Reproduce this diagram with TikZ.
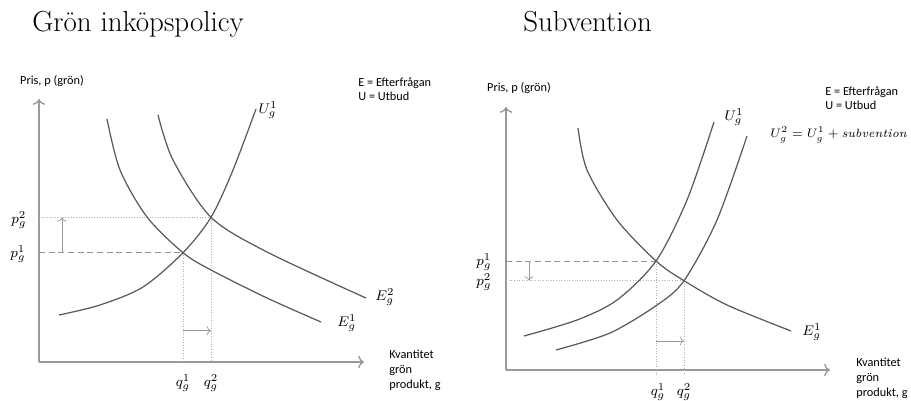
\documentclass[tikz,border=0pt]{standalone}
\usepackage{fontspec}
\newfontfamily\calibri{Carlito}
\usetikzlibrary{positioning, arrows.meta}

\begin{document}
\begin{tikzpicture}[x=0.02cm, y=-0.02cm,
  axis/.style={->, draw=gray!80, line width=0.8pt},
  curve/.style={draw=black!65, line width=0.7pt},
  dashline/.style={draw=gray!85, dash pattern=on 3.5pt off 2pt, line width=0.5pt},
  dotline/.style={draw=gray!60, densely dotted, line width=0.5pt},
  shiftarrow/.style={->, draw=gray!80, line width=0.4pt},
  sanslabel/.style={font=\calibri\fontsize{7}{8.5}\selectfont, align=left, inner sep=0pt},
  mathlabel/.style={font=\fontsize{8.5}{10}\selectfont, inner sep=0pt},
  title/.style={font=\fontsize{16.5}{20}\selectfont, inner sep=0pt, anchor=base west}]

\useasboundingbox (0,0) rectangle (911,401);

% Titles
\node[title] (ltitle) at (32,32) {Grön inköpspolicy};
\node[title] (rtitle) at (523,32) {Subvention};

% ---------- Left panel: green purchasing policy ----------
\coordinate (lO) at (39,362);
\coordinate (lYtop) at (39,99);
\coordinate (lXend) at (364,362);
\draw[axis] (lO) -- (lYtop);
\draw[axis] (lO) -- (lXend);

\node[sanslabel] (lylab) at (52,81) {Pris, p (grön)};
\node[sanslabel, anchor=north west] (llegend) at (358,77) {E = Efterfrågan\\U = Utbud};
\node[sanslabel, anchor=north west] (lxlab) at (389,350) {Kvantitet\\grön\\produkt, g};

% Equilibria
\coordinate (le1) at (183,252.7);
\coordinate (le2) at (211,217.3);
\coordinate (lp1) at (39,252.7);
\coordinate (lp2) at (39,217.3);
\coordinate (lq1) at (183,362);
\coordinate (lq2) at (211,362);

\draw[dotline] (lp2) -- (le2);
\draw[dashline] (lp1) -- (le1);
\draw[dotline] (le1) -- (lq1);
\draw[dotline] (le2) -- (lq2);

% Curves
\draw[curve] plot[smooth] coordinates {(59,315) (100,305) (143,287) (183,252.7) (211,217.3) (233,170) (256,109)};
\draw[curve] plot[smooth] coordinates {(107,119) (120,170) (147,217) (183,252.7) (211,270) (267,298) (321,322)};
\draw[curve] plot[smooth] coordinates {(158,115) (173,160) (211,217.3) (267,252) (366,298)};

% Shift arrows
\coordinate (lup0) at (62,252.7);
\coordinate (lup1) at (62,217.3);
\draw[shiftarrow] (lup0) -- (lup1);
\coordinate (lrt0) at (183,330.7);
\coordinate (lrt1) at (211,330.7);
\draw[shiftarrow] (lrt0) -- (lrt1);

% Labels
\node[mathlabel] (lp2lab) at (19,220) {$p_g^2$};
\node[mathlabel] (lp1lab) at (18,254) {$p_g^1$};
\node[mathlabel] (lq1lab) at (183,383) {$q_g^1$};
\node[mathlabel] (lq2lab) at (211,383) {$q_g^2$};
\node[mathlabel] (lUlab) at (268,110) {$U_g^1$};
\node[mathlabel] (lE1lab) at (347,323) {$E_g^1$};
\node[mathlabel] (lE2lab) at (385,297) {$E_g^2$};

% ---------- Right panel: subsidy ----------
\coordinate (rO) at (506,370);
\coordinate (rYtop) at (506,107);
\coordinate (rXend) at (830,370);
\draw[axis] (rO) -- (rYtop);
\draw[axis] (rO) -- (rXend);

\node[sanslabel] (rylab) at (519,88) {Pris, p (grön)};
\node[sanslabel, anchor=north west] (rlegend) at (825,86) {E = Efterfrågan\\U = Utbud};
\node[sanslabel, anchor=north west] (rxlab) at (856,358) {Kvantitet\\grön\\produkt, g};
\node[mathlabel, font=\fontsize{6.8}{8}\selectfont, anchor=west] (rformula) at (770,135) {$U_g^2 = U_g^1 + \mathit{subvention}$};

% Equilibria
\coordinate (re1) at (656,261);
\coordinate (re2) at (684,280.7);
\coordinate (rp1) at (506,261);
\coordinate (rp2) at (506,280.7);
\coordinate (rq1) at (656,375);
\coordinate (rq2) at (684,375);

\draw[dashline] (rp1) -- (re1);
\draw[dotline] (rp2) -- (re2);
\draw[dotline] (re1) -- (rq1);
\draw[dotline] (re2) -- (rq2);

% Curves
\draw[curve] plot[smooth] coordinates {(524,336) (577,320) (617,300) (656,261) (687,200) (714,122)};
\draw[curve] plot[smooth] coordinates {(556,350) (610,333) (657,305) (684,280.7) (717,220) (747,136)};
\draw[curve] plot[smooth] coordinates {(578,128) (587,170) (617,220) (656,261) (684,280.7) (727,305) (791,331)};

% Shift arrows
\coordinate (rdn0) at (529,261);
\coordinate (rdn1) at (529,280.7);
\draw[shiftarrow] (rdn0) -- (rdn1);
\coordinate (rrt0) at (656,341);
\coordinate (rrt1) at (684,341);
\draw[shiftarrow] (rrt0) -- (rrt1);

% Labels
\node[mathlabel] (rp1lab) at (484,262) {$p_g^1$};
\node[mathlabel] (rp2lab) at (484,282) {$p_g^2$};
\node[mathlabel] (rq1lab) at (658,392) {$q_g^1$};
\node[mathlabel] (rq2lab) at (684,392) {$q_g^2$};
\node[mathlabel] (rU1lab) at (734,117) {$U_g^1$};
\node[mathlabel] (rE1lab) at (812,332) {$E_g^1$};

\end{tikzpicture}
\end{document}
